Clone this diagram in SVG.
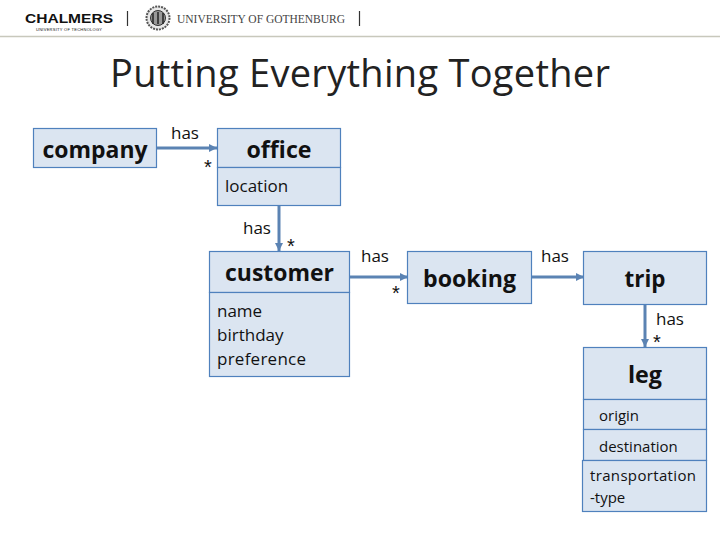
<svg xmlns="http://www.w3.org/2000/svg" width="720" height="540" viewBox="0 0 720 540">
<style>
text{font-family:"Open Sans","Liberation Sans",sans-serif;fill:#111}
.b{fill:#dbe5f1;stroke:#4f81bd;stroke-width:1.2}
.h{font-size:24px;font-weight:700;text-anchor:middle}
.t{font-size:17px}
.u{font-size:15px}
.s{font-size:20px;font-family:"Liberation Sans",sans-serif}
.c{fill:none;stroke:#5b83b3;stroke-width:3}
</style>
<defs><marker id="a" markerWidth="9" markerHeight="9" refX="8" refY="4" orient="auto" markerUnits="userSpaceOnUse"><path d="M0 0L8 4L0 8z" fill="#5b83b3"/></marker></defs>
<rect width="720" height="540" fill="#fff"/>
<g id="header">
<text x="25" y="23" style="font-family:'Liberation Sans',sans-serif;font-weight:700;font-size:12.5px" textLength="88" lengthAdjust="spacingAndGlyphs">CHALMERS</text>
<text x="36" y="31" style="font-family:'Liberation Sans',sans-serif;font-size:4px" textLength="66">UNIVERSITY OF TECHNOLOGY</text>
<path d="M127.500 11V26M359.500 11V26" stroke="#333" stroke-width="1.200"/>
<circle cx="158" cy="18" r="11.500" fill="#e8e8e8" stroke="#555" stroke-width="2" stroke-dasharray="2 1"/><circle cx="158" cy="18" r="7.500" fill="#999" stroke="#333"/><path d="M153 13V24M158 12V24M163 13V24" stroke="#222" stroke-width="1.500"/>
<text x="177" y="23" style="font-family:'Liberation Serif',serif;font-size:11.500px;fill:#444" textLength="168">UNIVERSITY OF GOTHENBURG</text>
<path d="M0 36.500H720" stroke="#c8c8bc" stroke-width="1.500"/>
</g>
<text id="title" x="360" y="87" text-anchor="middle" style="font-size:38px;fill:#222" textLength="500">Putting Everything Together</text>
<g id="connectors">
<path class="c" d="M157 148H217" marker-end="url(#a)"/>
<path class="c" d="M279 206V251" marker-end="url(#a)"/>
<path class="c" d="M350 277H408" marker-end="url(#a)"/>
<path class="c" d="M532 277H584" marker-end="url(#a)"/>
<path class="c" d="M645 304V347" marker-end="url(#a)"/>
</g>
<g id="company"><rect class="b" x="33.500" y="128.500" width="123" height="39"/><text class="h" x="95" y="158" textLength="105" lengthAdjust="spacingAndGlyphs">company</text></g>
<g id="office"><rect class="b" x="217.500" y="128.500" width="123" height="39"/><rect class="b" x="217.500" y="167.500" width="123" height="38"/><text class="h" x="279" y="158" textLength="65" lengthAdjust="spacingAndGlyphs">office</text><text class="t" x="225" y="192">location</text></g>
<g id="customer"><rect class="b" x="209.500" y="251.500" width="140" height="41"/><rect class="b" x="209.500" y="292.500" width="140" height="84"/><text class="h" x="279.500" y="281" textLength="109" lengthAdjust="spacingAndGlyphs">customer</text><text class="t" x="217" y="317">name</text><text class="t" x="217" y="341">birthday</text><text class="t" x="217" y="365" textLength="89">preference</text></g>
<g id="booking"><rect class="b" x="407.500" y="251.500" width="124" height="52"/><text class="h" x="469.500" y="287" textLength="93" lengthAdjust="spacingAndGlyphs">booking</text></g>
<g id="trip"><rect class="b" x="583.500" y="251.500" width="123" height="53"/><text class="h" x="645" y="287" textLength="41" lengthAdjust="spacingAndGlyphs">trip</text></g>
<g id="leg"><rect class="b" x="583.500" y="347.500" width="123" height="52"/><rect class="b" x="583.500" y="399.500" width="123" height="30"/><rect class="b" x="583.500" y="429.500" width="123" height="31"/><rect class="b" x="582.500" y="460.500" width="124" height="51"/><text class="h" x="645" y="383" textLength="34" lengthAdjust="spacingAndGlyphs">leg</text><text class="u" x="599" y="421">origin</text><text class="u" x="599" y="452">destination</text><text class="u" x="590" y="481" textLength="106">transportation</text><text class="u" x="590" y="503">-type</text></g>
<g id="labels">
<text class="t" x="171" y="139">has</text><text class="s" x="204" y="174">*</text>
<text class="t" x="243" y="234">has</text><text class="s" x="287" y="253">*</text>
<text class="t" x="361" y="262">has</text><text class="s" x="392" y="300">*</text>
<text class="t" x="541" y="262">has</text>
<text class="t" x="656" y="325">has</text><text class="s" x="653" y="349">*</text>
</g>
</svg>
